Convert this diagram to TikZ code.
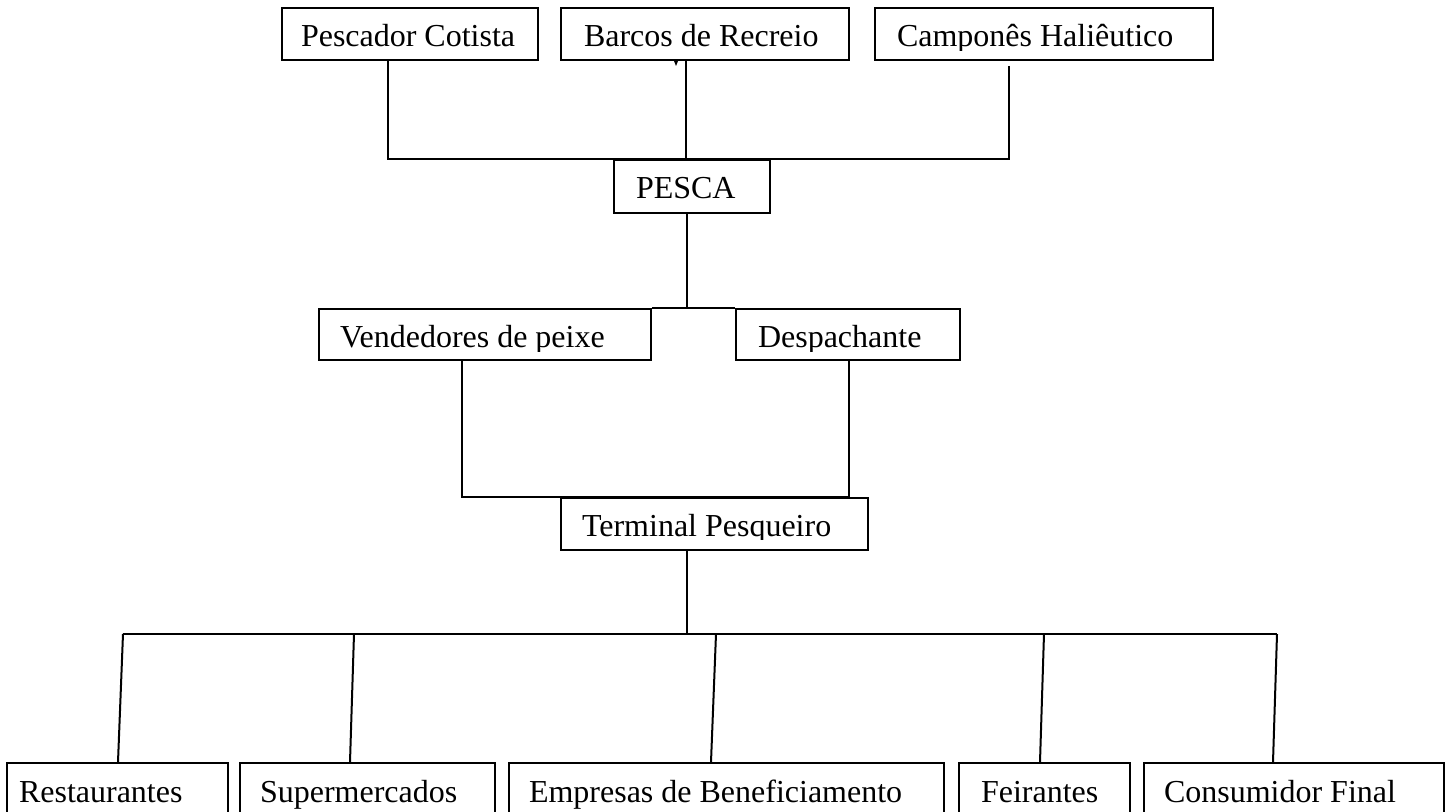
\documentclass[tikz,border=0pt]{standalone}
\usepackage{fontspec}
\setmainfont{Liberation Serif}
\usetikzlibrary{calc}
\newcommand{\boxtxt}[3]{\makebox[#1][l]{\hspace*{#2}#3}}
\begin{document}
\begin{tikzpicture}[x=0.5pt,y=-0.5pt,
  every node/.style={font=\fontsize{16}{18}\selectfont},
  box/.style={draw, line width=1pt, inner sep=0pt, anchor=north west, text height=19.5pt},
  link/.style={line width=1pt},
  mask/.style={fill=white, draw=none}]
\clip (0,0) rectangle (1445,812);
\fill[white] (0,0) rectangle (1445,812);

% top row
\node[box, text depth=6.5pt] (pc) at (281,7) {\boxtxt{128pt}{9.5pt}{Pescador Cotista}};
\node[box, text depth=6.5pt] (br) at (560,7) {\boxtxt{144pt}{11.5pt}{Barcos de Recreio}};
\node[box, text depth=6.5pt] (ch) at (874,7) {\boxtxt{169pt}{11pt}{Camponês Haliêutico}};
% pesca
\node[box, text depth=7pt] (pesca) at (613,159) {\boxtxt{78pt}{11pt}{PESCA}};
% middle row
\node[box, text depth=6pt] (ven) at (318,308) {\boxtxt{166pt}{10.5pt}{Vendedores de peixe}};
\node[box, text depth=6pt] (desp) at (735,308) {\boxtxt{112pt}{11pt}{Despachante}};
% terminal
\node[box, text height=19pt, text depth=7pt] (term) at (560,497) {\boxtxt{153.5pt}{10.5pt}{Terminal Pesqueiro}};
% bottom row
\node[box, text depth=20pt] (rest) at (6,762) {\boxtxt{110.5pt}{6pt}{Restaurantes}};
\node[box, text depth=20pt] (sup) at (239,762) {\boxtxt{127.5pt}{10pt}{Supermercados}};
\node[box, text depth=20pt] (emp) at (508,762) {\boxtxt{217.5pt}{10pt}{Empresas de Beneficiamento}};
\node[box, text depth=20pt] (fei) at (958,762) {\boxtxt{85.5pt}{11pt}{Feirantes}};
\node[box, text depth=20pt] (con) at (1143,762) {\boxtxt{150pt}{10pt}{Consumidor Final}};

% clipped descenders
\fill[mask] ($(ch.south west)+(2,-2)$) rectangle ($(ch.south east)+(-2,-10)$);
\fill[mask] ($(ven.south west)+(2,-2)$) rectangle ($(ven.south east)+(-2,-9)$);
\fill[mask] ($(desp.south west)+(2,-2)$) rectangle ($(desp.south east)+(-2,-9)$);
\fill[mask] ($(term.south west)+(2,-2)$) rectangle ($(term.south east)+(-2,-11)$);

% connector end points on boxes
\coordinate (pc-o) at ($(pc.south west)+(107,0)$);
\coordinate (br-o) at ($(br.south west)+(126,0)$);
\coordinate (ch-o) at ($(ch.south west)+(135,5)$);
\coordinate (pesca-o) at ($(pesca.south west)+(74,0)$);
\coordinate (ven-o) at ($(ven.south west)+(144,0)$);
\coordinate (desp-o) at ($(desp.south west)+(114,0)$);
\coordinate (term-o) at ($(term.south west)+(127,0)$);
\coordinate (b1) at (123,634);
\coordinate (b2) at (354,634);
\coordinate (b3) at (716,634);
\coordinate (b4) at (1044,634);
\coordinate (b5) at (1277,634);

% top connectors
\draw[link] (pc-o) |- (pesca.north);
\draw[link] (ch-o) |- (pesca.north);
\draw[link] (br-o) -- (br-o |- pesca.north);
\fill ($(br.south west)+(114,0)$) -- ++(4,0) -- ++(-2,5) -- cycle;
% pesca to middle row
\draw[link] (pesca-o) -- (pesca-o |- ven.north);
\draw[link] (ven.north east) -- (desp.north west);
% middle row to terminal
\draw[link] (ven-o) |- (term.north);
\draw[link] (desp-o) |- (term.north);
% terminal to bottom row
\draw[link] (term-o) -- (term-o |- b1);
\draw[link] (b1) -- (b5);
\draw[link] (b1) -- ($(rest.north west)+(112,0)$);
\draw[link] (b2) -- ($(sup.north west)+(111,0)$);
\draw[link] (b3) -- ($(emp.north west)+(203,0)$);
\draw[link] (b4) -- ($(fei.north west)+(82,0)$);
\draw[link] (b5) -- ($(con.north west)+(130,0)$);
\end{tikzpicture}
\end{document}
